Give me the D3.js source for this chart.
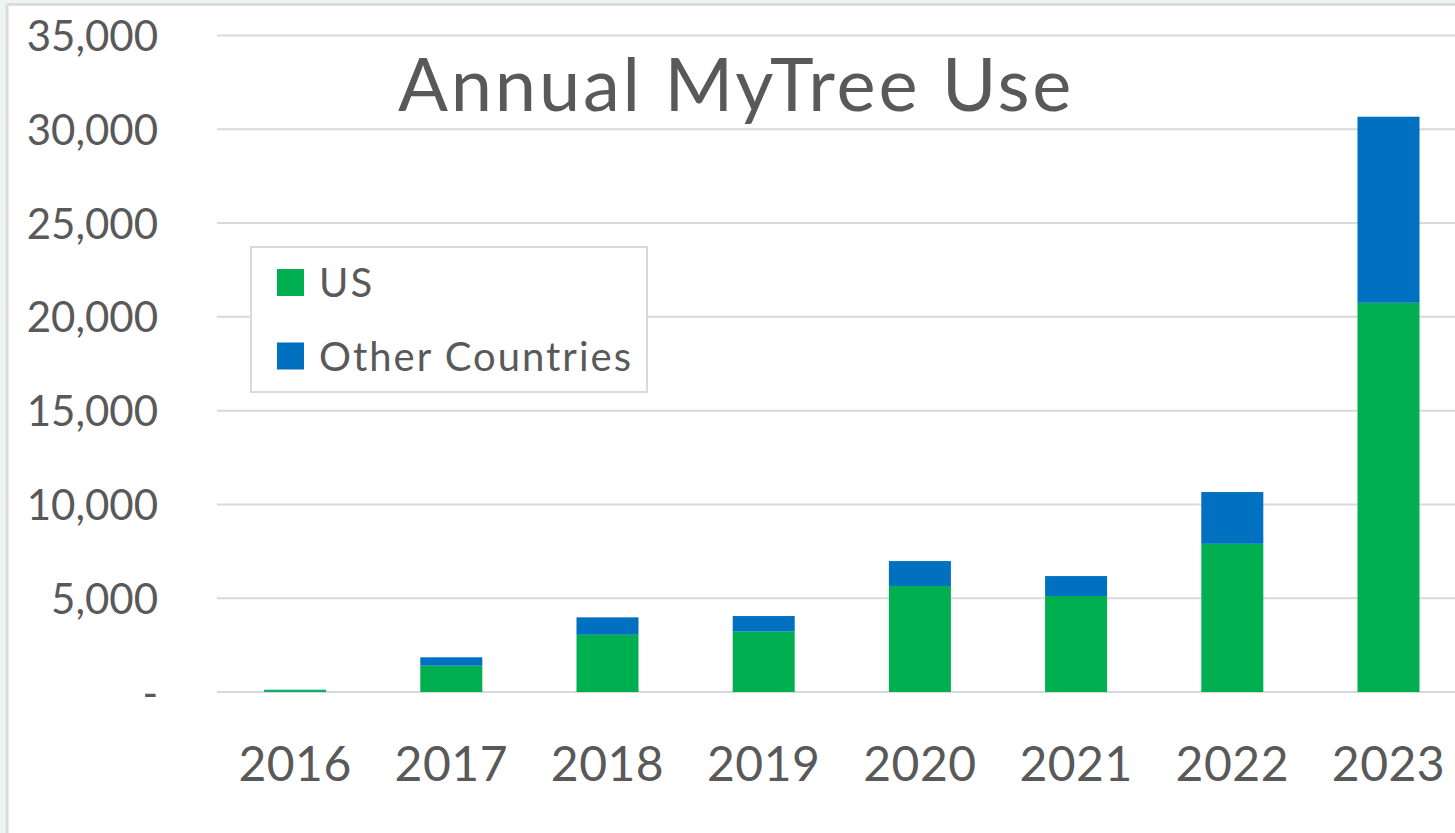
<!DOCTYPE html>
<html>
<head>
<meta charset="utf-8">
<title>Annual MyTree Use</title>
<script src="https://cdn.jsdelivr.net/npm/d3@7"></script>
<style>
    html, body { margin: 0; padding: 0; background: #eef4f2; }
    svg { display: block; font-family: Lato, "Open Sans", sans-serif; }
</style>
</head>
<body>
<svg id="chart" width="1455" height="833"></svg>
<script>

/**
 * @constant years
 * @type {Array}
 */
const years = ['2016', '2017', '2018', '2019', '2020', '2021', '2022', '2023'];

// Values (users per year).
const usValues    = [100, 1400, 3050, 3220, 5650, 5120, 7900, 20750];
const otherValues = [20, 450, 930, 830, 1330, 1060, 2760, 9920];

const seriesNames  = ['US', 'Other Countries'];
const seriesColors = ['#00b050', '#0070c0'];
const yTicks       = [0, 5000, 10000, 15000, 20000, 25000, 30000, 35000];

const TEXT_COLOR = '#595959';
const GRID_COLOR = '#d9d9d9';

const svg = d3.select('#chart');

// Chart area: white sheet with a light frame at top and left.
svg.append('rect').attr('x', 7).attr('y', 4).attr('width', 1455).attr('height', 833).attr('fill', '#ffffff');
svg.append('line').attr('x1', 7).attr('x2', 1455).attr('y1', 4.5).attr('y2', 4.5)
    .attr('stroke', '#dcdcdc').attr('stroke-width', 3);
svg.append('line').attr('x1', 7).attr('x2', 7).attr('y1', 4).attr('y2', 833)
    .attr('stroke', '#dcdcdc').attr('stroke-width', 3);

const table = years.map((year, i) => ({ year, US: usValues[i], 'Other Countries': otherValues[i] }));
const stacked = d3.stack().keys(seriesNames)(table);

const x = d3.scaleBand()
    .domain(years)
    .range([217, 1466.6])
    .paddingInner(0.603)
    .paddingOuter(0.3015);

const y = d3.scaleLinear()
    .domain([0, 35000])
    .range([692, 35.5]);

// Horizontal gridlines.
svg.append('g')
    .selectAll('line')
    .data(yTicks)
    .join('line')
    .attr('x1', 217)
    .attr('x2', 1455)
    .attr('y1', d => y(d))
    .attr('y2', d => y(d))
    .attr('stroke', GRID_COLOR)
    .attr('stroke-width', 2);

// Y axis labels, zero is shown as a dash.
const yAxis = d3.axisLeft(y)
    .tickValues(yTicks)
    .tickSize(0)
    .tickPadding(0)
    .tickFormat(d => d === 0 ? '-' : d3.format(',')(d));

svg.append('g')
    .attr('transform', 'translate(158,0)')
    .call(yAxis)
    .call(g => g.select('.domain').remove())
    .call(g => g.selectAll('text')
        .attr('fill', TEXT_COLOR)
        .attr('font-family', 'Lato, sans-serif')
        .attr('font-size', 42)
        .attr('dy', '0.36em'));

// Stacked bars.
svg.append('g')
    .selectAll('g')
    .data(stacked)
    .join('g')
    .attr('fill', (d, i) => seriesColors[i])
    .selectAll('rect')
    .data(d => d)
    .join('rect')
    .attr('x', d => x(d.data.year))
    .attr('y', d => y(d[1]))
    .attr('width', x.bandwidth())
    .attr('height', d => y(d[0]) - y(d[1]));

// Category labels.
const xAxis = d3.axisBottom(x).tickSize(0).tickPadding(0);

svg.append('g')
    .attr('transform', 'translate(0,746)')
    .call(xAxis)
    .call(g => g.select('.domain').remove())
    .call(g => g.selectAll('text')
        .attr('fill', TEXT_COLOR)
        .attr('font-family', 'Lato, sans-serif')
        .attr('font-size', 48)
        .attr('letter-spacing', 0.5)
        .attr('dy', '0.72em'));

// Title.
svg.append('text')
    .attr('x', 398)
    .attr('y', 111)
    .attr('fill', TEXT_COLOR)
    .attr('font-size', 74)
    .attr('letter-spacing', 2.8)
    .text('Annual MyTree Use');

// Legend.
const legend = svg.append('g');

legend.append('rect')
    .attr('x', 251)
    .attr('y', 247)
    .attr('width', 396)
    .attr('height', 145)
    .attr('fill', '#ffffff')
    .attr('stroke', GRID_COLOR)
    .attr('stroke-width', 2);

const items = legend.selectAll('g.item')
    .data(seriesNames)
    .join('g')
    .attr('class', 'item')
    .attr('transform', (d, i) => `translate(277,${269 + i * 73.5})`);

items.append('rect')
    .attr('width', 27)
    .attr('height', 27)
    .attr('fill', (d, i) => seriesColors[i]);

items.append('text')
    .attr('x', 42)
    .attr('y', 28)
    .attr('fill', TEXT_COLOR)
    .attr('font-size', 40)
    .attr('letter-spacing', 2)
    .text(d => d);

</script>
</body>
</html>
